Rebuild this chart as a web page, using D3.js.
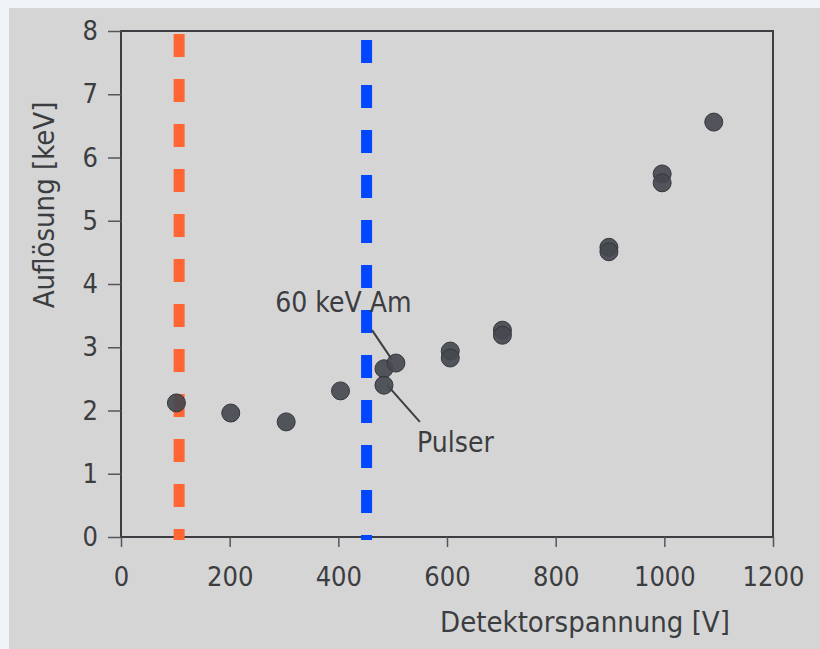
<!DOCTYPE html>
<html>
<head>
<meta charset="utf-8">
<script src="https://cdn.jsdelivr.net/npm/d3@7"></script>
<style>
  html, body { margin: 0; padding: 0; background: #f1f4f7; }
  svg { display: block; }
  .lbl { font-family: "DejaVu Sans Condensed", "DejaVu Sans", sans-serif; font-stretch: condensed; fill: #3c3d40; }
</style>
</head>
<body>
<svg id="chart" width="820" height="649"></svg>
<script>
// Detector voltage [V] and energy resolution [keV]
const voltage    = [102, 202, 304, 404, 484, 484, 506, 606, 606, 702, 702, 898, 898, 996, 996, 1091];
const resolution = [2.12, 1.96, 1.82, 2.31, 2.66, 2.40, 2.75, 2.94, 2.83, 3.27, 3.19, 4.58, 4.51, 5.74, 5.60, 6.56];

// Reference voltages marked with dashed lines
const markerVoltage = [107, 452];
const markerColor   = ["#ff6633", "#0046ff"];

const xTicks = [0, 200, 400, 600, 800, 1000, 1200];
const yTicks = [0, 1, 2, 3, 4, 5, 6, 7, 8];

// Callouts: label text, label anchor and leader line in data units
const calloutText   = ["60 keV Am", "Pulser"];
const calloutLabel  = [[284, 3.72], [545, 1.50]];
const calloutLine   = [[[462, 3.27], [499, 2.80]], [[490, 2.40], [550, 1.82]]];

const svg = d3.select("#chart");

// paper sheet
svg.append("rect").attr("x", 9).attr("y", 8).attr("width", 811).attr("height", 641).attr("fill", "#d5d5d6");

const x = d3.scaleLinear().domain([0, 1200]).range([121, 773]);
const y = d3.scaleLinear().domain([0, 8]).range([537, 31]);

// plot frame
svg.append("rect")
  .attr("x", x(0)).attr("y", y(8))
  .attr("width", x(1200) - x(0)).attr("height", y(0) - y(8))
  .attr("fill", "none").attr("stroke", "#3d3e42").attr("stroke-width", 2);

const xAxis = svg.append("g").attr("transform", `translate(0,${y(0)})`)
  .call(d3.axisBottom(x).tickValues(xTicks).tickSize(10).tickPadding(20).tickFormat(d3.format("d")));
const yAxis = svg.append("g").attr("transform", `translate(${x(0)},0)`)
  .call(d3.axisLeft(y).tickValues(yTicks).tickSize(13).tickPadding(10).tickFormat(d3.format("d")));

[xAxis, yAxis].forEach(g => {
  g.select(".domain").remove();
  g.selectAll(".tick line").attr("stroke", "#55565a").attr("stroke-width", 1.5);
  g.selectAll(".tick text").attr("class", "lbl").attr("font-size", 27);
});

// dashed marker lines
svg.selectAll(".marker").data(markerVoltage).join("line")
  .attr("class", "marker")
  .attr("x1", d => x(d)).attr("x2", d => x(d))
  .attr("y1", (d, i) => i === 0 ? 34 : 40).attr("y2", y(0) + 3)
  .attr("stroke", (d, i) => markerColor[i])
  .attr("stroke-width", 11)
  .attr("stroke-dasharray", "23,22");

// callout leader lines
svg.selectAll(".leader").data(calloutLine).join("line")
  .attr("class", "leader")
  .attr("x1", d => x(d[0][0])).attr("y1", d => y(d[0][1]))
  .attr("x2", d => x(d[1][0])).attr("y2", d => y(d[1][1]))
  .attr("stroke", "#3d3e42").attr("stroke-width", 2);

// data points
svg.selectAll(".pt").data(voltage).join("circle")
  .attr("class", "pt")
  .attr("cx", d => x(d))
  .attr("cy", (d, i) => y(resolution[i]))
  .attr("r", 9)
  .attr("fill", "#474950").attr("fill-opacity", 0.92)
  .attr("stroke", "#36373c").attr("stroke-width", 1);

// callout labels
svg.selectAll(".callout").data(calloutText).join("text")
  .attr("class", "lbl")
  .attr("x", (d, i) => x(calloutLabel[i][0]))
  .attr("y", (d, i) => y(calloutLabel[i][1]))
  .attr("dy", "0.36em")
  .attr("font-size", 28)
  .text(d => d);

// axis titles
svg.append("text").attr("class", "lbl")
  .attr("x", 585).attr("y", 632).attr("text-anchor", "middle").attr("font-size", 29)
  .text("Detektorspannung [V]");
svg.append("text").attr("class", "lbl")
  .attr("transform", "translate(54,205) rotate(-90)").attr("text-anchor", "middle").attr("font-size", 29)
  .text("Auflösung [keV]");
</script>
</body>
</html>
